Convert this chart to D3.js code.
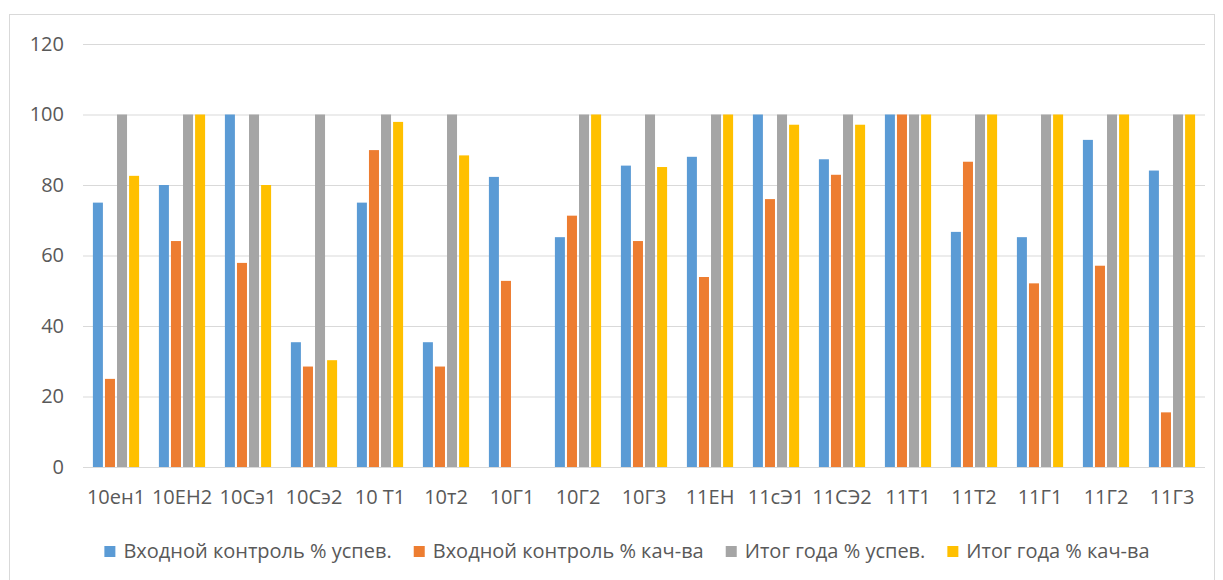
<!DOCTYPE html>
<html>
<head>
<meta charset="utf-8">
<script src="https://cdn.jsdelivr.net/npm/d3@7"></script>
<style>
  html, body { margin: 0; padding: 0; background: #ffffff; }
  svg { display: block; }
  text { font-family: "Open Sans", "DejaVu Sans", sans-serif; fill: #595959; }
</style>
</head>
<body>
<svg id="chart" width="1223" height="580"></svg>
<script>
const categories = ["10ен1","10ЕН2","10Сэ1","10Сэ2","10 Т1","10т2","10Г1","10Г2","10Г3","11ЕН","11сЭ1","11СЭ2","11Т1","11Т2","11Г1","11Г2","11Г3"];
const seriesNames = ["Входной контроль % успев.","Входной контроль % кач-ва","Итог года % успев.","Итог года % кач-ва"];
const inputSuccess = [75, 80, 100, 35.4, 75, 35.4, 82.3, 65.2, 85.5, 88, 100, 87.3, 100, 66.7, 65.2, 92.8, 84.1];
const inputQuality = [25, 64.1, 57.9, 28.5, 89.9, 28.5, 52.8, 71.3, 64.1, 53.9, 76, 82.9, 100, 86.6, 52.1, 57.1, 15.5];
const yearSuccess  = [100, 100, 100, 100, 100, 100, 0, 100, 100, 100, 100, 100, 100, 100, 100, 100, 100];
const yearQuality  = [82.6, 100, 80, 30.3, 97.9, 88.4, 0, 100, 85.1, 100, 97.1, 97.1, 100, 100, 100, 100, 100];
const yTicks = [0, 20, 40, 60, 80, 100, 120];
const colors = ["#5B9BD5", "#ED7D31", "#A5A5A5", "#FFC000"];

const series = [inputSuccess, inputQuality, yearSuccess, yearQuality];

const svg = d3.select("#chart");
const W = 1223, H = 580;

svg.append("rect").attr("x", 0).attr("y", 0).attr("width", W).attr("height", H).attr("fill", "#ffffff");
// chart border
svg.append("rect").attr("x", 9.5).attr("y", 14.5).attr("width", 1205).attr("height", 600)
  .attr("fill", "none").attr("stroke", "#d9d9d9").attr("stroke-width", 1);

const plot = { left: 83, right: 1205, top: 44, bottom: 467 };

const y = d3.scaleLinear().domain([0, 120]).range([plot.bottom, plot.top]);
const x0 = d3.scaleBand().domain(categories).range([plot.left, plot.right]).paddingInner(0.3).paddingOuter(0.15);
const x1 = d3.scaleBand().domain(d3.range(series.length)).range([0, x0.bandwidth()]).paddingInner(0.17);

// gridlines
const yAxis = d3.axisLeft(y).tickValues(yTicks).tickSize(-(plot.right - plot.left)).tickPadding(19);
const gy = svg.append("g").attr("transform", `translate(${plot.left},0)`).call(yAxis);
gy.select(".domain").remove();
gy.selectAll(".tick line").attr("stroke", "#d9d9d9").attr("stroke-width", 1);
gy.selectAll(".tick text").attr("font-size", 20).attr("fill", "#595959")
  .style("font-family", '"Open Sans", sans-serif');

// bars
const groups = svg.append("g").selectAll("g").data(categories).join("g")
  .attr("transform", c => `translate(${x0(c)},0)`);
groups.selectAll("rect").data((c, i) => series.map((s, k) => ({ k, v: s[i] }))).join("rect")
  .attr("x", d => x1(d.k))
  .attr("width", x1.bandwidth())
  .attr("y", d => y(d.v))
  .attr("height", d => y(0) - y(d.v))
  .attr("fill", d => colors[d.k]);

// x axis labels
const xAxis = d3.axisBottom(x0).tickSize(0).tickPadding(23);
const gx = svg.append("g").attr("transform", `translate(0,${plot.bottom})`).call(xAxis);
gx.select(".domain").remove();
gx.selectAll(".tick text").attr("font-size", 20).attr("fill", "#595959")
  .style("font-family", '"Open Sans", sans-serif');

// legend
const legend = svg.append("g");
const items = legend.selectAll("g").data(seriesNames).join("g");
items.append("rect").attr("width", 11).attr("height", 11).attr("y", -12).attr("fill", (d, i) => colors[i]);
items.append("text").attr("x", 19).attr("y", 0).attr("font-size", 20).text(d => d);
let cx = 0;
const pos = [];
items.each(function () {
  const w = d3.select(this).select("text").node().getComputedTextLength();
  pos.push(cx);
  cx += 19 + w + 22;
});
const total = cx - 22;
const startX = (92 + 1162) / 2 - total / 2;
items.attr("transform", (d, i) => `translate(${startX + pos[i]},558)`);
</script>
</body>
</html>
